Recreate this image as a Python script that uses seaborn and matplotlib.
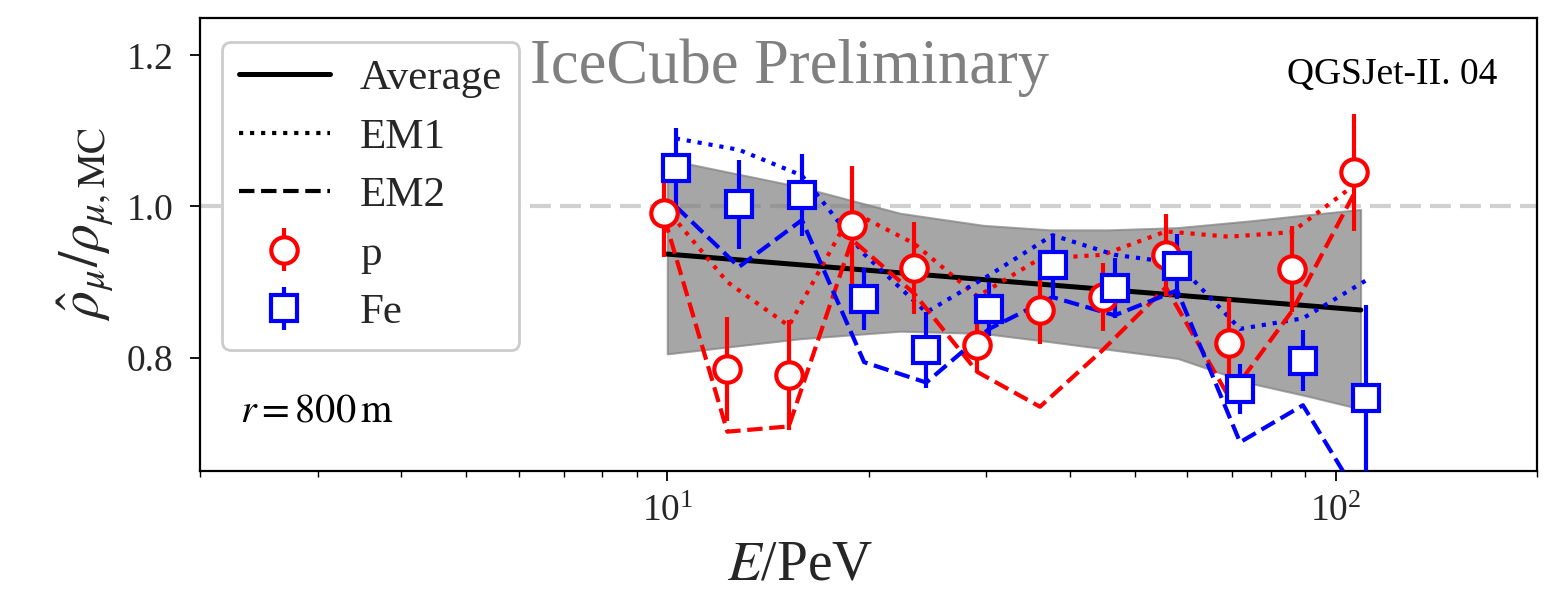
import numpy as np
import pandas as pd
import matplotlib
matplotlib.use("Agg")
import matplotlib.pyplot as plt
from matplotlib.lines import Line2D
import seaborn as sns

# ---------------- data ----------------
E_p = [9.9, 12.3, 15.2, 18.9, 23.4, 29.1, 36.1, 44.8, 55.7, 69.2, 85.9, 106.5]
rho_p = [0.991, 0.785, 0.777, 0.976, 0.919, 0.817, 0.863, 0.880, 0.936, 0.819, 0.917, 1.045]
err_p = [0.058, 0.069, 0.073, 0.078, 0.061, 0.036, 0.045, 0.045, 0.054, 0.060, 0.057, 0.078]
em1_p = [1.000, 0.900, 0.842, 0.993, 0.951, 0.881, 0.931, 0.936, 0.967, 0.960, 0.966, 1.028]
em2_p = [0.985, 0.702, 0.709, 0.956, 0.885, 0.781, 0.735, 0.810, 0.893, 0.748, 0.861, 1.017]

E_fe = [10.3, 12.8, 15.9, 19.7, 24.4, 30.3, 37.7, 46.7, 57.9, 71.9, 89.3, 110.9]
rho_fe = [1.051, 1.003, 1.015, 0.877, 0.810, 0.864, 0.922, 0.892, 0.921, 0.759, 0.796, 0.747]
err_fe = [0.053, 0.059, 0.054, 0.041, 0.050, 0.036, 0.040, 0.040, 0.043, 0.033, 0.040, 0.123]
em1_fe = [1.090, 1.075, 1.041, 0.937, 0.860, 0.909, 0.962, 0.936, 0.925, 0.838, 0.852, 0.902]
em2_fe = [1.000, 0.920, 0.982, 0.794, 0.767, 0.838, 0.880, 0.856, 0.889, 0.688, 0.737, 0.600]

avg_E = [10.0, 109.0]
avg_val = [0.937, 0.863]

band_E = [10.0, 15.8, 22.3, 29.7, 37.4, 45.6, 58.0, 74.6, 90.8, 108.9]
band_hi = [1.062, 1.026, 0.991, 0.975, 0.969, 0.969, 0.972, 0.981, 0.989, 0.996]
band_lo = [0.805, 0.825, 0.835, 0.832, 0.821, 0.811, 0.799, 0.766, 0.749, 0.732]

legend_labels = ["Average", "EM1", "EM2", "p", "Fe"]
yticks = [0.8, 1.0, 1.2]

# ---------------- style ----------------
sns.set_style("ticks")
plt.rcParams["font.family"] = ["Liberation Serif", "DejaVu Serif"]
plt.rcParams["mathtext.fontset"] = "stix"

fig = plt.figure(figsize=(15.67, 5.94), dpi=100)
ax = fig.add_axes([0.1276, 0.2071, 0.8533, 0.7634])
ax.set_xscale("log")

ax.axhline(1.0, color="#d0d0d0", lw=3, dashes=(5, 2.2), zorder=1)
ax.fill_between(band_E, band_lo, band_hi, color="gray", alpha=0.7, lw=1.5, zorder=2)

df_avg = pd.DataFrame({"E": avg_E, "v": avg_val})
sns.lineplot(data=df_avg, x="E", y="v", color="black", lw=3.6, ax=ax, zorder=3)

for E, y, c in [(E_p, em1_p, "red"), (E_fe, em1_fe, "blue")]:
    sns.lineplot(x=E, y=y, color=c, linestyle=":", lw=3, ax=ax, zorder=4)
for E, y, c in [(E_p, em2_p, "red"), (E_fe, em2_fe, "blue")]:
    sns.lineplot(x=E, y=y, color=c, dashes=False, lw=3, ax=ax, zorder=4).lines[-1].set_dashes((3.7, 1.6))

eb_p = ax.errorbar(E_p, rho_p, yerr=err_p, fmt="o", color="red", mfc="white", mec="red",
                   ms=19, mew=3, elinewidth=3, capsize=0, zorder=5)
eb_fe = ax.errorbar(E_fe, rho_fe, yerr=err_fe, fmt="s", color="blue", mfc="white", mec="blue",
                    ms=19, mew=3, elinewidth=3, capsize=0, zorder=5)

ax.set_xlim(2, 200)
ax.set_ylim(0.65, 1.25)
ax.set_yticks(yticks)
ax.set_yticklabels([f"{t:.1f}" for t in yticks])
ax.tick_params(axis="both", which="major", direction="out", length=7, width=1.3, labelsize=27,
               color="black")
ax.tick_params(axis="y", which="major", pad=12)
ax.tick_params(axis="x", which="major", pad=10)
ax.tick_params(axis="x", which="minor", direction="out", length=4, width=1.0, color="black")
ax.tick_params(axis="y", which="minor", left=False)
for s in ax.spines.values():
    s.set_linewidth(1.6)
    s.set_color("black")

ax.set_xlabel("$E$/PeV", fontsize=40)
ax.xaxis.set_label_coords(0.449, -0.15)
ax.set_ylabel(r"$\hat{\rho}_{\mu}/\rho_{\mu,\mathrm{MC}}$", fontsize=40)
ax.yaxis.set_label_coords(-0.063, 0.544)

h_avg = Line2D([], [], color="black", lw=3.6)
h_em1 = Line2D([], [], color="black", lw=3, linestyle=":")
h_em2 = Line2D([], [], color="black", lw=3, dashes=(3.7, 1.6))
leg = ax.legend([h_avg, h_em1, h_em2, eb_p, eb_fe], legend_labels, loc="upper left",
                bbox_to_anchor=(0.0165, 0.946), borderaxespad=0, fontsize=31,
                frameon=True, fancybox=True, framealpha=1, edgecolor="#cccccc",
                handlelength=2.1, labelspacing=0.45, handletextpad=0.7, borderpad=0.4)
leg.get_frame().set_linewidth(2)

ax.text(0.247, 0.889, "IceCube Preliminary", transform=ax.transAxes, color="gray",
        fontsize=45, ha="left", va="center")
ax.text(0.970, 0.873, "QGSJet-II. 04", transform=ax.transAxes, color="black",
        fontsize=27, ha="right", va="center")
ax.text(0.030, 0.130, r"$r = 800\,\mathrm{m}$", transform=ax.transAxes, color="black",
        fontsize=29, ha="left", va="center")

fig.savefig("out.png", dpi=100)
